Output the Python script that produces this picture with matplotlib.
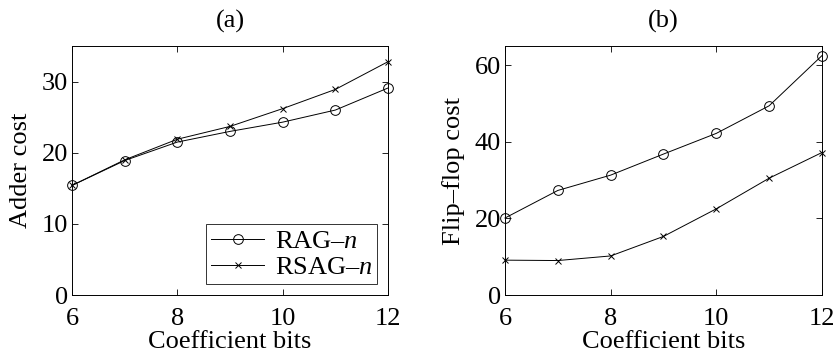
import numpy as np
import matplotlib
matplotlib.use('Agg')
import matplotlib.pyplot as plt

plt.rcParams['font.family'] = ['Liberation Serif', 'DejaVu Serif']
plt.rcParams['mathtext.fontset'] = 'custom'
plt.rcParams['mathtext.it'] = 'Liberation Serif:italic'
plt.rcParams['mathtext.rm'] = 'Liberation Serif'

# data
bits = [6, 7, 8, 9, 10, 11, 12]
adder_rag = [15.4, 18.9, 21.5, 23.0, 24.3, 26.0, 29.1]
adder_rsag = [15.4, 19.0, 21.9, 23.7, 26.2, 28.9, 32.8]
ff_rag = [20.1, 27.3, 31.3, 36.8, 42.2, 49.4, 62.5]
ff_rsag = [9.1, 9.0, 10.2, 15.3, 22.5, 30.5, 37.2]
labels = ['RAG\u2013$n$', 'RSAG\u2013$n$']

FS = 19

fig = plt.figure(figsize=(8.35, 3.56), dpi=100)
ax1 = fig.add_axes([0.0862, 0.1713, 0.3785, 0.6994])
ax2 = fig.add_axes([0.6048, 0.1713, 0.3796, 0.6994])


def style_axis(ax, ylim, yticks, ylabel, title):
    ax.set_xlim(6, 12)
    ax.set_ylim(*ylim)
    ax.set_xticks([6, 8, 10, 12])
    ax.set_yticks(yticks)
    ax.tick_params(direction='in', top=True, right=True, labelsize=FS,
                   length=4, width=0.6, pad=3)
    ax.tick_params(axis='x', pad=9)
    for sp in ax.spines.values():
        sp.set_linewidth(0.7)
    ax.set_xlabel('Coefficient bits', fontsize=FS, labelpad=1)
    ax.set_ylabel(ylabel, fontsize=FS, labelpad=7)
    ax.set_title(title, fontsize=FS, pad=13)


ax1.plot(bits, adder_rag, color='black', lw=0.7, marker='o', ms=7,
         mfc='none', mew=0.7, label=labels[0], clip_on=False)
ax1.plot(bits, adder_rsag, color='black', lw=0.7, marker='x', ms=5,
         mew=0.7, label=labels[1], clip_on=False)
style_axis(ax1, (0, 35), [0, 10, 20, 30], 'Adder cost', '(a)')
leg = ax1.legend(loc='lower right', fontsize=FS, frameon=True, fancybox=False,
                 edgecolor='black', handlelength=2.0, borderpad=0.2,
                 labelspacing=0.1, handletextpad=0.4, borderaxespad=0.4)
leg.get_frame().set_linewidth(0.7)

ax2.plot(bits, ff_rag, color='black', lw=0.7, marker='o', ms=7,
         mfc='none', mew=0.7, clip_on=False)
ax2.plot(bits, ff_rsag, color='black', lw=0.7, marker='x', ms=5, mew=0.7,
         clip_on=False)
style_axis(ax2, (0, 65), [0, 20, 40, 60], 'Flip\u2013flop cost', '(b)')

fig.savefig('out.png', dpi=100)
